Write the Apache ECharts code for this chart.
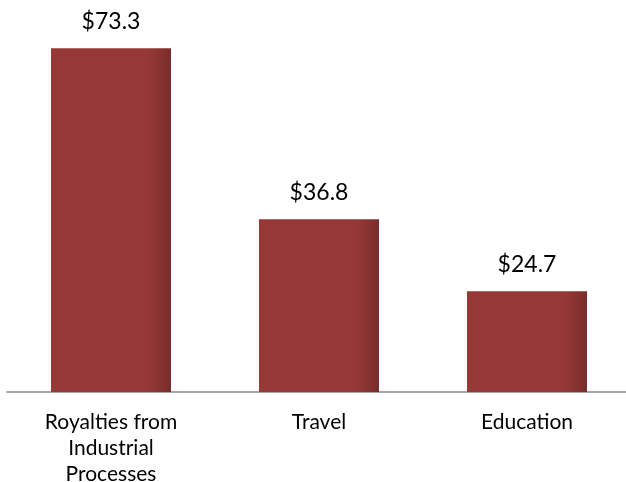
<!DOCTYPE html>
<html>
<head>
<meta charset="utf-8">
<script src="https://cdn.jsdelivr.net/npm/echarts@6/dist/echarts.min.js"></script>
<style>html,body{margin:0;padding:0;background:#fff;}#c{width:626px;height:482px;}</style>
</head>
<body>
<div id="c"></div>
<script>
const categories = ["Royalties from\nIndustrial\nProcesses", "Travel", "Education"];
const barValues = [73.3, 36.8, 21.5];
const labelTexts = ["$73.3", "$36.8", "$24.7"];

const chart = echarts.init(document.getElementById('c'), null, {renderer: 'canvas'});
const barGrad = new echarts.graphic.LinearGradient(0, 0, 1, 0, [
  {offset: 0, color: '#953836'},
  {offset: 0.82, color: '#953836'},
  {offset: 1, color: '#7a2d2b'}
]);
chart.setOption({
  animation: false,
  backgroundColor: '#ffffff',
  grid: {left: 7, right: -5, top: 16.7, bottom: 90, containLabel: false, outerBoundsMode: 'none'},
  xAxis: {
    type: 'category',
    data: categories,
    axisLine: {show: true, lineStyle: {color: '#a6a6a6', width: 2}},
    axisTick: {show: false},
    axisLabel: {
      color: '#000', fontSize: 21, fontFamily: 'Lato', lineHeight: 26,
      margin: 17, interval: 0
    }
  },
  yAxis: {
    type: 'value', min: 0, max: 80, show: false,
    splitLine: {show: false}
  },
  series: [{
    type: 'bar',
    barWidth: 120,
    data: barValues,
    itemStyle: {color: barGrad},
    label: {
      show: true, position: 'top', distance: 15,
      fontSize: 23, fontFamily: 'Lato', color: '#000',
      formatter: p => labelTexts[p.dataIndex]
    }
  }]
});
</script>
</body>
</html>
